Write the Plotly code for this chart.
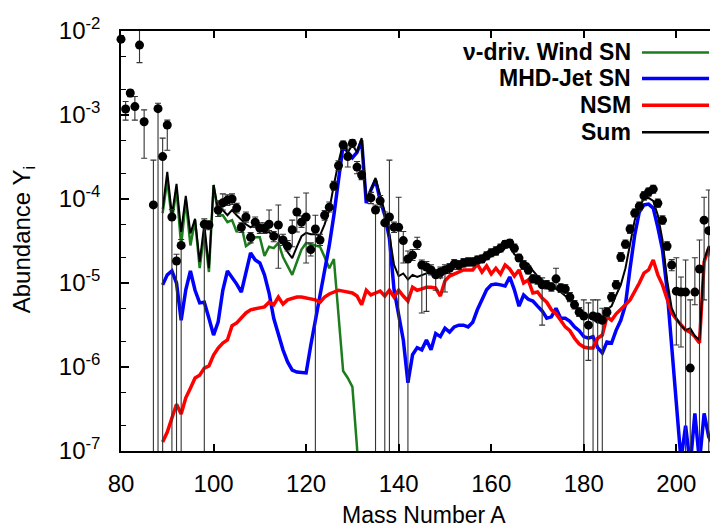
import plotly.graph_objects as go

# ---------------- data ----------------
A_wind = list(range(89, 133))
Y_wind = [6.8e-5, 1.68e-4, 5.6e-5, 1.28e-4, 2.8e-5, 9.7e-5, 2.8e-5, 5.6e-5, 1.5e-5, 4.05e-5,
          1.35e-5, 1.47e-4, 6.4e-5, 6.4e-5, 5.3e-5, 5.6e-5, 4.05e-5, 4.8e-5, 2.75e-5, 3.0e-5,
          3.5e-5, 3.5e-5, 2.1e-5, 2.7e-5, 2.6e-5, 3.0e-5, 2.04e-5, 1.6e-5, 1.25e-5, 1.78e-5,
          2.5e-5, 3.0e-5, 2.9e-5, 2.8e-5, 2.7e-5, 2.04e-5, 1.5e-5, 1.93e-5, 4.4e-6, 8.95e-7,
          7.4e-7, 5.8e-7, 1.1e-7, 1.0e-8]

A_jet = list(range(89, 210))
Y_jet = [9.5e-6, 1.25e-5, 1.39e-5, 1.0e-5, 3.6e-6, 8.3e-6, 1.39e-5, 8.2e-6, 5.8e-6, 5.9e-6,
         3.8e-6, 2.4e-6, 3.45e-6, 8.2e-6, 1.39e-5, 1.18e-5, 9.7e-6, 7.8e-6, 1.31e-5, 2.28e-5,
         1.88e-5, 1.73e-5, 1.25e-5, 7.6e-6, 3.8e-6, 2.4e-6, 1.6e-6, 1.15e-6, 9.2e-7, 8.7e-7,
         8.7e-7, 8.5e-7, 1.8e-6, 3.6e-6, 6.6e-6, 1.35e-5, 2.8e-5, 6.4e-5, 1.55e-4, 4.4e-4,
         3.6e-4, 3.1e-4, 3.6e-4, 5.0e-4, 8.95e-5, 1.28e-4, 1.68e-4, 9.7e-5, 6.4e-5, 3.4e-5,
         8.3e-6, 4.15e-6, 2.1e-6, 6.5e-7, 1.4e-6, 1.7e-6, 1.6e-6, 2.1e-6, 1.6e-6, 2.5e-6,
         2.3e-6, 2.9e-6, 2.6e-6, 3.0e-6, 3.15e-6, 3.15e-6, 3.0e-6, 3.4e-6, 4.8e-6, 6.3e-6,
         8.3e-6, 9.5e-6, 9.7e-6, 9.5e-6, 9.2e-6, 1.18e-5, 8.3e-6, 5.3e-6, 7.2e-6, 6.4e-6,
         6.1e-6, 5.3e-6, 4.65e-6, 3.8e-6, 3.95e-6, 5.0e-6, 3.8e-6, 3.8e-6, 3.5e-6, 3.0e-6,
         2.7e-6, 2.3e-6, 2.2e-6, 2.3e-6, 1.7e-6, 1.47e-6, 1.98e-6, 1.93e-6, 2.75e-6, 3.6e-6,
         5.5e-6, 1.5e-5, 3.7e-5, 7.0e-5, 8.5e-5, 8.7e-5, 7.8e-5, 4.6e-5, 2.5e-5, 8.3e-6,
         1.6e-6, 3.5e-7, 7.8e-8, 2.0e-7, 6.8e-8, 2.8e-7, 7.4e-8, 2.8e-7, 1.47e-7, 1.18e-7,
         1.0e-7]

A_nsm = list(range(89, 210))
Y_nsm = [1.28e-7, 1.68e-7, 2.47e-7, 3.6e-7, 2.75e-7, 4.3e-7, 5.6e-7, 7.4e-7, 8.0e-7, 9.7e-7,
         1.03e-6, 1.39e-6, 1.68e-6, 1.93e-6, 2.1e-6, 3.1e-6, 3.35e-6, 3.8e-6, 4.4e-6, 4.8e-6,
         4.9e-6, 5.0e-6, 5.2e-6, 5.9e-6, 5.5e-6, 6.8e-6, 5.6e-6, 6.3e-6, 6.6e-6, 6.8e-6,
         6.8e-6, 6.6e-6, 6.4e-6, 6.3e-6, 5.9e-6, 6.8e-6, 7.4e-6, 7.8e-6, 8.2e-6, 8.0e-6,
         7.8e-6, 7.6e-6, 7.0e-6, 5.5e-6, 8.2e-6, 7.2e-6, 7.6e-6, 8.0e-6, 7.0e-6, 8.2e-6,
         6.8e-6, 8.2e-6, 7.0e-6, 6.1e-6, 8.9e-6, 8.2e-6, 8.5e-6, 8.9e-6, 8.9e-6, 8.7e-6,
         7.0e-6, 1.06e-5, 1.21e-5, 1.28e-5, 1.35e-5, 1.43e-5, 1.43e-5, 1.43e-5, 1.68e-5, 1.35e-5,
         1.6e-5, 1.28e-5, 1.5e-5, 1.28e-5, 1.64e-5, 1.47e-5, 1.21e-5, 1.43e-5, 1.0e-5, 1.09e-5,
         7.6e-6, 7.8e-6, 6.6e-6, 5.9e-6, 4.8e-6, 4.3e-6, 3.6e-6, 3.0e-6, 2.7e-6, 2.2e-6,
         1.88e-6, 1.73e-6, 1.68e-6, 1.68e-6, 2.2e-6, 2.4e-6, 3.95e-6, 3.6e-6, 4.3e-6, 4.8e-6,
         5.5e-6, 6.3e-6, 7.8e-6, 1.0e-5, 1.31e-5, 1.43e-5, 1.88e-5, 1.25e-5, 9.5e-6, 6.3e-6,
         4.4e-6, 3.7e-6, 3.15e-6, 2.75e-6, 2.6e-6, 2.3e-6, 1.93e-6, 1.78e-5, 2.6e-5, 1.78e-5,
         1.5e-5]

A_sum = list(range(89, 210))
Y_sum = [7.6e-5, 2.1e-4, 6.4e-5, 1.51e-4, 4.05e-5, 1.09e-4, 3.9e-5, 5.8e-5, 1.78e-5, 5.0e-5,
         1.5e-5, 1.47e-4, 7.4e-5, 7.4e-5, 6.4e-5, 7.4e-5, 6.4e-5, 5.6e-5, 5.0e-5, 4.6e-5,
         5.0e-5, 4.6e-5, 3.95e-5, 4.05e-5, 3.55e-5, 3.8e-5, 2.9e-5, 2.34e-5, 1.98e-5, 2.7e-5,
         3.6e-5, 3.95e-5, 3.8e-5, 3.8e-5, 3.7e-5, 5.0e-5, 7.4e-5, 1.47e-4, 2.75e-4, 4.6e-4,
         3.6e-4, 4.4e-4, 3.6e-4, 5.3e-4, 9.7e-5, 1.28e-4, 1.78e-4, 1.11e-4, 7.0e-5, 3.7e-5,
         1.64e-5, 1.21e-5, 1.3e-5, 1.1e-5, 1.25e-5, 1.18e-5, 1.25e-5, 1.3e-5, 1.35e-5, 1.35e-5,
         1.15e-5, 1.35e-5, 1.45e-5, 1.55e-5, 1.6e-5, 1.7e-5, 1.72e-5, 1.75e-5, 2.0e-5, 1.95e-5,
         2.3e-5, 2.25e-5, 2.45e-5, 2.35e-5, 2.6e-5, 2.7e-5, 2.2e-5, 2.0e-5, 1.75e-5, 1.7e-5,
         1.4e-5, 1.21e-5, 1.09e-5, 9.7e-6, 8.95e-6, 8.5e-6, 7.8e-6, 7.0e-6, 6.3e-6, 5.3e-6,
         4.5e-6, 4.15e-6, 3.95e-6, 3.7e-6, 3.35e-6, 3.8e-6, 4.8e-6, 5.3e-6, 7.2e-6, 9.5e-6,
         1.5e-5, 2.8e-5, 5.6e-5, 8.2e-5, 1.0e-4, 1.03e-4, 9.5e-5, 6.4e-5, 3.25e-5, 1.09e-5,
         5.0e-6, 3.8e-6, 3.1e-6, 2.75e-6, 2.9e-6, 2.34e-6, 2.1e-6, 1.88e-5, 2.75e-5, 1.88e-5,
         1.6e-5]

# observed abundances (mass number, value, upper bound, lower bound; lower 0 = unbounded)
obs_A = [80, 81, 82, 83, 84, 85, 87, 88, 89, 90,
         91, 92, 93, 98, 99, 101, 102, 103, 104, 105,
         106, 107, 108, 109, 110, 111, 112, 113, 114, 115,
         116, 117, 118, 119, 120, 121, 122, 123, 124, 125,
         126, 127, 128, 129, 130, 131, 132, 134, 135, 136,
         137, 138, 139, 140, 141, 142, 143, 144, 145, 146,
         147, 148, 149, 150, 151, 152, 153, 154, 155, 156,
         157, 158, 159, 160, 161, 162, 163, 164, 165, 166,
         167, 168, 169, 170, 171, 172, 173, 174, 175, 176,
         177, 178, 179, 180, 181, 182, 183, 184, 185, 186,
         187, 188, 189, 190, 191, 192, 193, 194, 195, 196,
         197, 198, 199, 200, 201, 202, 203, 204, 205, 206,
         207]
obs_Y = [8.0e-3, 1.18e-3, 1.83e-3, 1.26e-3, 6.8e-3, 8.3e-4, 8.5e-5, 1.19e-3, 3.2e-4, 7.6e-4,
         6.1e-5, 1.83e-5, 2.8e-5, 5.0e-5, 4.9e-5, 7.4e-5, 9.0e-5, 9.7e-5, 1.0e-4, 7.8e-5,
         4.6e-5, 6.1e-5, 3.5e-5, 5.3e-5, 4.5e-5, 4.5e-5, 5.0e-5, 3.6e-5, 4.9e-5, 3.25e-5,
         2.75e-5, 4.3e-5, 7.0e-5, 5.3e-5, 6.1e-5, 2.5e-5, 4.4e-5, 3.25e-5, 6.4e-5, 8.0e-5,
         1.43e-4, 2.5e-4, 4.4e-4, 3.2e-4, 4.6e-4, 2.4e-4, 1.93e-4, 1.03e-4, 7.4e-5, 9.5e-5,
         5.2e-5, 6.1e-5, 4.6e-5, 4.6e-5, 3.2e-5, 1.93e-5, 2.15e-5, 2.9e-5, 1.64e-5, 1.55e-5,
         1.43e-5, 1.25e-5, 1.35e-5, 1.43e-5, 1.5e-5, 1.68e-5, 1.64e-5, 1.73e-5, 1.78e-5, 1.78e-5,
         1.88e-5, 1.93e-5, 2.1e-5, 2.28e-5, 2.4e-5, 2.6e-5, 2.9e-5, 3.0e-5, 2.6e-5, 1.98e-5,
         1.64e-5, 1.43e-5, 1.12e-5, 1.09e-5, 9.5e-6, 9.5e-6, 9.0e-6, 1.12e-5, 8.7e-6, 8.5e-6,
         6.8e-6, 5.5e-6, 4.5e-6, 4.05e-6, 3.15e-6, 4.05e-6, 3.95e-6, 3.6e-6, 4.5e-6, 6.8e-6,
         9.5e-6, 2.04e-5, 2.9e-5, 4.4e-5, 6.8e-5, 8.2e-5, 1.09e-4, 1.21e-4, 1.31e-4, 8.9e-5,
         5.6e-5, 2.75e-5, 1.64e-5, 8.0e-6, 7.8e-6, 7.8e-6, 9.7e-7, 7.8e-6, 1.47e-5, 5.6e-5,
         4.2e-5]
obs_hi = [8.8e-3, 1.45e-3, 2.0e-3, 1.66e-3, 1.03e-2, 1.15e-3, 2.9e-4, 1.38e-3, 5.3e-4, 8.7e-4,
          7.5e-5, 2.2e-5, 3.3e-5, 5.8e-5, 5.5e-5, 9.5e-5, 1.15e-4, 1.12e-4, 1.15e-4, 8.9e-5,
          5.2e-5, 7.0e-5, 4.0e-5, 6.1e-5, 5.2e-5, 5.2e-5, 7.4e-5, 4.1e-5, 8.5e-5, 3.8e-5,
          3.2e-5, 5.6e-5, 1.05e-4, 6.3e-5, 1.18e-4, 3.0e-5, 6.4e-5, 3.8e-5, 7.3e-5, 9.2e-5,
          1.62e-4, 2.85e-4, 4.9e-4, 4.4e-4, 5.1e-4, 2.8e-4, 2.2e-4, 1.2e-4, 8.5e-5, 1.1e-4,
          7.0e-5, 2.9e-4, 5.3e-5, 1.05e-4, 4.1e-5, 2.4e-5, 2.5e-5, 3.5e-5, 1.88e-5, 1.8e-5,
          1.65e-5, 1.45e-5, 1.55e-5, 1.65e-5, 1.7e-5, 1.9e-5, 1.85e-5, 1.95e-5, 2.0e-5, 2.0e-5,
          2.1e-5, 2.15e-5, 2.35e-5, 2.55e-5, 2.7e-5, 2.9e-5, 3.2e-5, 3.3e-5, 2.9e-5, 2.2e-5,
          1.85e-5, 1.6e-5, 1.25e-5, 1.22e-5, 1.15e-5, 1.07e-5, 1.0e-5, 1.5e-5, 9.8e-6, 9.6e-6,
          7.7e-6, 6.2e-6, 5.1e-6, 6.3e-6, 5.8e-6, 6.3e-6, 6.3e-6, 5.0e-6, 5.1e-6, 7.7e-6,
          1.07e-5, 2.3e-5, 3.25e-5, 4.9e-5, 7.6e-5, 9.2e-5, 1.22e-4, 1.35e-4, 1.46e-4, 1.0e-4,
          6.3e-5, 3.1e-5, 1.9e-5, 2.0e-5, 1.18e-5, 1.88e-5, 6.3e-6, 2.0e-5, 3.25e-5, 1.05e-4,
          1.28e-4]
obs_lo = [7.3e-3, 8.7e-4, 1.65e-3, 8.7e-4, 4.2e-3, 3.05e-4, 0, 0, 0, 3.8e-4,
          0, 0, 0, 0, 4.3e-5, 6.2e-5, 7.4e-5, 8.4e-5, 8.6e-5, 6.8e-5,
          4.0e-5, 5.3e-5, 3.0e-5, 4.6e-5, 3.9e-5, 3.9e-5, 4.2e-5, 3.1e-5, 1.5e-5, 2.8e-5,
          2.4e-5, 2.7e-5, 4.05e-5, 4.6e-5, 1.73e-5, 2.1e-5, 0, 2.8e-5, 5.6e-5, 7.0e-5,
          1.27e-4, 2.2e-4, 3.9e-4, 2.4e-4, 4.1e-4, 2.0e-4, 1.7e-4, 8.8e-5, 0, 8.0e-5,
          0, 0, 4.0e-5, 0, 1.73e-5, 0, 1.85e-5, 2.5e-5, 4.4e-6, 4.6e-6,
          1.25e-5, 8.2e-6, 1.15e-5, 7.8e-6, 1.3e-5, 1.45e-5, 1.45e-5, 1.55e-5, 1.6e-5, 1.6e-5,
          1.7e-5, 1.75e-5, 1.9e-5, 2.05e-5, 2.15e-5, 2.35e-5, 2.6e-5, 2.7e-5, 2.35e-5, 1.8e-5,
          1.45e-5, 1.28e-5, 1.0e-5, 9.7e-6, 3.15e-6, 8.5e-6, 8.0e-6, 8.9e-6, 7.7e-6, 7.5e-6,
          6.0e-6, 4.9e-6, 4.0e-6, 0, 1.2e-6, 0, 0, 0, 4.0e-6, 6.0e-6,
          8.5e-6, 1.8e-5, 2.6e-5, 3.9e-5, 6.1e-5, 7.3e-5, 9.7e-5, 1.08e-4, 1.17e-4, 8.0e-5,
          5.0e-5, 2.45e-5, 1.4e-5, 1.83e-6, 1.73e-6, 0, 0, 5.5e-6, 0, 6.3e-6,
          0]

x_ticks = [80, 100, 120, 140, 160, 180, 200]
y_ticks = [1e-7, 1e-6, 1e-5, 1e-4, 1e-3, 1e-2]
y_ticktext = ["10<sup>-7</sup>", "10<sup>-6</sup>", "10<sup>-5</sup>", "10<sup>-4</sup>",
              "10<sup>-3</sup>", "10<sup>-2</sup>"]
y_minor = [m * 10.0 ** e for e in range(-7, -2) for m in (2, 5)]

legend_names = ["\u03bd-driv. Wind SN", "MHD-Jet SN", "NSM", "Sum"]

# ---------------- styling ----------------
GREEN = "#1d7d1d"
BLUE = "#0000ff"
RED = "#ff0000"
BLACK = "#000000"
FONT = "Liberation Sans, Arial, sans-serif"

fig = go.Figure()
fig.add_trace(go.Scatter(x=A_wind, y=Y_wind, mode="lines", line=dict(color=GREEN, width=2.5)))
fig.add_trace(go.Scatter(x=A_jet, y=Y_jet, mode="lines", line=dict(color=BLUE, width=3.5)))
fig.add_trace(go.Scatter(x=A_nsm, y=Y_nsm, mode="lines", line=dict(color=RED, width=3.5)))
fig.add_trace(go.Scatter(x=A_sum, y=Y_sum, mode="lines", line=dict(color=BLACK, width=2)))

err_plus = [h - y for h, y in zip(obs_hi, obs_Y)]
err_minus = [y - l for y, l in zip(obs_Y, obs_lo)]
fig.add_trace(go.Scatter(
    x=obs_A, y=obs_Y, mode="markers",
    marker=dict(size=1, color="rgba(0,0,0,0)"),
    error_y=dict(type="data", symmetric=False, array=err_plus, arrayminus=err_minus,
                 width=3, thickness=1.1, color="#333333"),
))
fig.add_trace(go.Scatter(
    x=obs_A, y=obs_Y, mode="markers", xaxis="x2", yaxis="y2", cliponaxis=False,
    marker=dict(size=9, color=BLACK),
))

fig.update_traces(showlegend=False, hoverinfo="skip")

# legend drawn manually (text right-aligned, sample line to the right)
leg_colors = [GREEN, BLUE, RED, BLACK]
leg_widths = [2.5, 3.5, 3.5, 2.5]
leg_y = [0.949, 0.887, 0.823, 0.759]
for name, c, w, yy in zip(legend_names, leg_colors, leg_widths, leg_y):
    fig.add_annotation(x=0.8576, y=yy, xref="paper", yref="paper", text="<b>%s</b>" % name,
                       showarrow=False, xanchor="right", yanchor="middle",
                       font=dict(family=FONT, size=23, color="black"))
    fig.add_shape(type="line", xref="paper", yref="paper", x0=0.8727, x1=0.985, y0=yy, y1=yy,
                  line=dict(color=c, width=w))

# axis titles
fig.add_annotation(x=0.5075, y=-0.152, xref="paper", yref="paper", text="Mass Number A",
                   showarrow=False, xanchor="center", yanchor="middle",
                   font=dict(family=FONT, size=23, color="black"))
fig.add_annotation(x=-0.164, y=0.502, xref="paper", yref="paper", text="Abundance Y<sub>i</sub>",
                   showarrow=False, xanchor="center", yanchor="middle", textangle=-90,
                   font=dict(family=FONT, size=24, color="black"))

# the page body has an 8px default margin; the figure is offset to compensate
fig.update_layout(
    width=710, height=519,
    margin=dict(l=113, r=0, t=23, b=76),
    plot_bgcolor="white", paper_bgcolor="white",
    showlegend=False,
    font=dict(family=FONT, size=24, color="black"),
    xaxis=dict(range=[80, 209], tickmode="array", tickvals=x_ticks, ticks="inside", ticklen=7,
               tickwidth=1.5, tickcolor="black", showline=True, linecolor="black", linewidth=1.5,
               mirror="ticks", showgrid=False, zeroline=False,
               tickfont=dict(family=FONT, size=24, color="black"), ticklabelstandoff=10),
    yaxis=dict(type="log", range=[-7, -2], tickmode="array", tickvals=y_ticks, ticktext=y_ticktext,
               ticks="inside", ticklen=8, tickwidth=1.5, tickcolor="black",
               minor=dict(tickmode="array", tickvals=y_minor, ticks="inside", ticklen=5,
                          tickwidth=1.2, tickcolor="black", showgrid=False),
               showline=True, linecolor="black", linewidth=1.5, showgrid=False, zeroline=False,
               tickfont=dict(family=FONT, size=24, color="black"), ticklabelstandoff=14),
    xaxis2=dict(overlaying="x", range=[80, 209], visible=False),
    yaxis2=dict(overlaying="y", type="log", range=[-7, -2], visible=False),
)

fig.write_html("out.html")
